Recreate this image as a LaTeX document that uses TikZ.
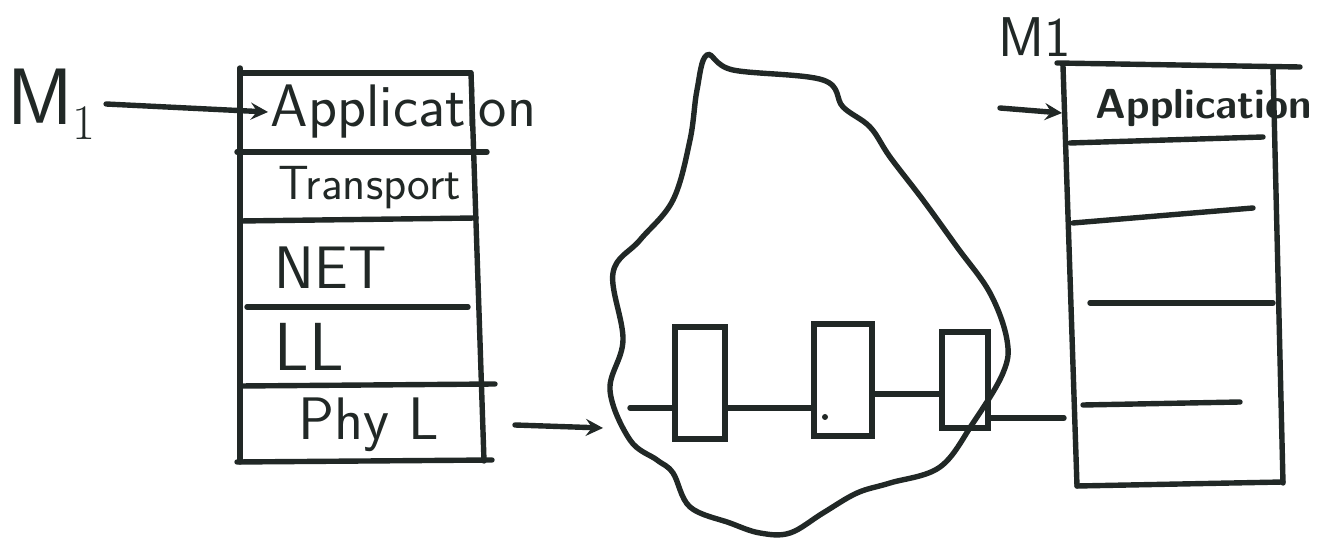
\documentclass[tikz,border=0pt]{standalone}
\usetikzlibrary{positioning}
\definecolor{ink}{RGB}{33,40,38}

\begin{document}
\begin{tikzpicture}[x=0.5pt, y=-0.5pt, >=stealth, line width=2.7pt, line cap=round, color=ink,
  layer/.style={anchor=west, inner sep=0pt, font=\sffamily\fontsize{30}{30}\selectfont},
  router/.style={draw, rectangle, inner sep=0pt}]
  \useasboundingbox (0,0) rectangle (1319,545);

  % sending host
  \draw (240,68) -- (240,462);
  \draw (471,73) -- (484,461);
  \draw (240,73) -- (471,73);
  \draw (237,152) -- (487,152);
  \draw (240,221) -- (476,218);
  \draw (247,307) -- (468,307);
  \draw (240,386) -- (495,384);
  \draw (237,462) -- (492,460);

  \node[layer] (app) at (268,112) {Application};
  \node[layer, font=\sffamily\fontsize{24}{24}\selectfont] (trans) at (276,188) {Transport};
  \node[layer] (net) at (272,268) {NET};
  \node[layer, font=\sffamily\fontsize{34}{34}\selectfont] (ll) at (272,347) {LL};
  \node[layer] (phy) at (296,425) {Phy L};

  \node[font=\sffamily\fontsize{40}{40}\selectfont] (m1) at (52,104) {M$_1$};
  \draw[->] (m1.east) -- (app.west);

  % network cloud
  \draw plot[smooth cycle, tension=0.6] coordinates {
    (707,55) (733,70) (823,80) (843,107) (870,127) (890,157) (923,200)
    (957,247) (990,293) (1007,340) (1003,373) (973,423) (940,467) (890,483)
    (857,493) (823,513) (790,533) (760,533) (730,523) (690,507) (673,473)
    (657,460) (630,440) (610,390) (623,340) (613,273) (640,240) (673,200)
    (690,140) (697,90)};

  \node[router, minimum width=25pt, minimum height=56pt] (r1) at (700,383) {};
  \node[router, minimum width=29pt, minimum height=56pt] (r2) at (843,380) {};
  \node[router, minimum width=23pt, minimum height=48pt] (r3) at (965,380) {};
  \fill (825,417) circle (3);

  \coordinate (phyout) at (515,425);
  \coordinate (netedge) at (603,428);
  \coordinate (netin) at (630,408);
  \coordinate (netout) at (1064,418);

  \draw[->] (phyout) -- (netedge);
  \draw (netin) -- (r1.west |- netin);
  \draw (r1.east |- netin) -- (r2.west |- netin);
  \draw (r2.east |- 0,394) -- (r3.west |- 0,394);
  \draw (r3.east |- netout) -- (netout);

  % receiving host
  \draw (1057,63) -- (1300,67);
  \draw (1063,66) -- (1077,486);
  \draw (1273,67) -- (1283,483);
  \draw (1077,486) -- (1283,482);
  \draw (1070,143) -- (1263,137);
  \draw (1073,223) -- (1253,208);
  \draw (1090,303) -- (1273,303);
  \draw (1083,405) -- (1240,402);

  \node[layer, font=\sffamily\bfseries\fontsize{21}{21}\selectfont] (rapp) at (1093,108) {Application};
  \node[font=\sffamily\fontsize{28}{28}\selectfont] (m1r) at (1035,37) {M1};

  \coordinate (rin) at (1000,108);
  \coordinate (rside) at (1062,113);
  \draw[->] (rin) -- (rside);
\end{tikzpicture}
\end{document}
